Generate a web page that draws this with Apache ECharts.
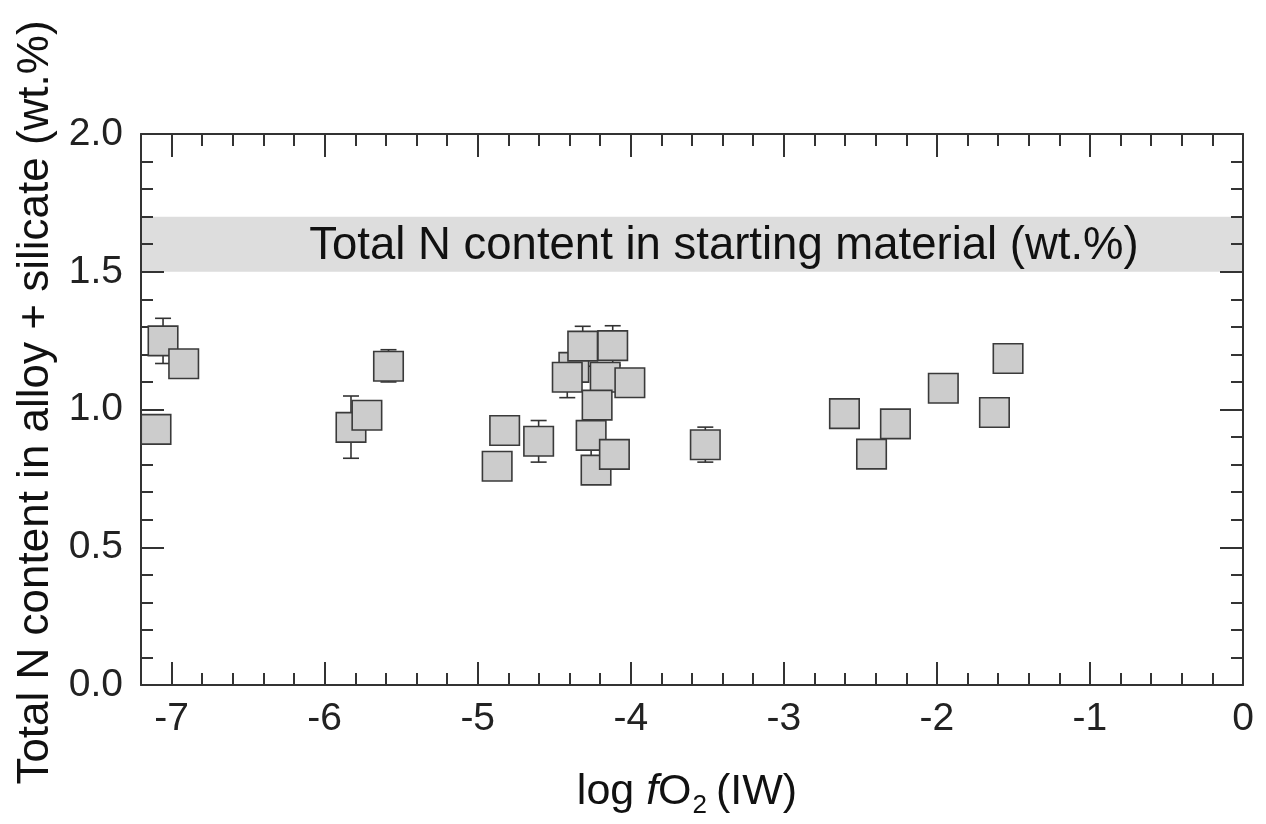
<!DOCTYPE html>
<html>
<head>
<meta charset="utf-8">
<script src="https://cdn.jsdelivr.net/npm/echarts@6/dist/echarts.min.js"></script>
<style>
html,body{margin:0;padding:0;background:#fff;}
#chart{width:1266px;height:824px;}
</style>
</head>
<body>
<div id="chart"></div>
<script>
// ---- data ----
const xValues = [-7.056, -6.921, -7.102, -5.828, -5.724, -5.583, -4.824, -4.873, -4.602, -4.372, -4.314, -4.118, -4.415, -4.167, -4.220, -4.006, -4.259, -4.227, -4.107, -3.513, -2.604, -2.427, -2.271, -1.958, -1.624, -1.535];
const yValues = [1.249, 1.166, 0.928, 0.935, 0.979, 1.157, 0.924, 0.794, 0.885, 1.153, 1.230, 1.232, 1.117, 1.117, 1.016, 1.097, 0.906, 0.780, 0.837, 0.872, 0.985, 0.838, 0.948, 1.077, 0.989, 1.185];
const errLow  = [1.167, null, null, 0.823, null, 1.100, null, null, 0.809, null, 1.157, 1.161, 1.043, null, null, null, 0.830, null, null, 0.809, null, null, null, null, null, null];
const errHigh = [1.331, null, null, 1.049, null, 1.217, null, null, 0.960, null, 1.302, 1.304, 1.190, null, null, null, 0.980, null, null, 0.936, null, null, null, null, null, null];
const bandLow = 1.5;
const bandHigh = 1.7;
const bandText = 'Total N content in starting material (wt.%)';
const xMajorTicks = [-7, -6, -5, -4, -3, -2, -1, 0];
const xMin = -7.2, xMax = 0, xMinorStep = 0.2;
const yMin = 0, yMax = 2, yStep = 0.5;
const yTitle = 'Total N content in alloy + silicate (wt.%)';

const FONT = "'Liberation Sans', Arial, Helvetica, sans-serif";
const AX = '#333333';

const scatterData = xValues.map((x, i) => [x, yValues[i]]);
const errData = [];
xValues.forEach((x, i) => { if (errLow[i] != null) errData.push([x, yValues[i], errLow[i], errHigh[i]]); });

function xAxisBase(pos, major, labels) {
  const a = {
    type: 'value', position: pos, min: xMin, max: xMax, z: 2,
    splitLine: { show: false },
    axisLine: { show: major, onZero: false, lineStyle: { color: AX, width: 2 } },
    axisTick: { show: true, inside: true, length: major ? 23 : 12, lineStyle: { color: AX, width: 2 } },
    axisLabel: { show: false }
  };
  if (major) {
    a.axisTick.customValues = xMajorTicks;
    a.axisLabel = { show: labels, customValues: xMajorTicks, fontSize: 39, color: '#222', fontFamily: FONT, margin: 15 };
  } else {
    a.interval = xMinorStep;
  }
  return a;
}

const xa0 = xAxisBase('bottom', true, true);
xa0.name = '{n|log }{i|f}{n|O}{s|2}{n|(IW)}';
xa0.nameLocation = 'middle';
xa0.nameGap = 80;
xa0.nameTextStyle = {
  fontFamily: FONT, color: '#111', padding: [0, 10, 0, 0],
  rich: {
    n: { fontSize: 43, fontFamily: FONT, color: '#111' },
    i: { fontSize: 43, fontFamily: FONT, fontStyle: 'italic', color: '#111' },
    s: { fontSize: 26, fontFamily: FONT, color: '#111', padding: [28, 9, 0, 1] }
  }
};

function yAxisBase(pos, labels) {
  const a = {
    type: 'value', position: pos, min: yMin, max: yMax, interval: yStep, z: 2,
    splitLine: { show: false },
    axisLine: { show: true, onZero: false, lineStyle: { color: AX, width: 2 } },
    axisTick: { show: true, inside: true, length: 23, lineStyle: { color: AX, width: 2 } },
    minorTick: { show: true, splitNumber: 5, length: 12, lineStyle: { color: AX, width: 2 } },
    axisLabel: { show: labels, fontSize: 39, color: '#222', fontFamily: FONT, margin: 18,
      formatter: v => v.toFixed(1) }
  };
  return a;
}
const ya0 = yAxisBase('left', true);
ya0.name = yTitle;
ya0.nameLocation = 'middle';
ya0.nameGap = 80;
ya0.nameRotate = 90;
ya0.nameTextStyle = { fontSize: 44, fontFamily: FONT, color: '#111', padding: [0, 0, 0, 14] };

const option = {
  backgroundColor: '#ffffff',
  animation: false,
  textStyle: { fontFamily: FONT },
  grid: { left: 141, right: 23, top: 134, bottom: 136, containLabel: false },
  xAxis: [xa0, xAxisBase('bottom', false, false), xAxisBase('top', true, false), xAxisBase('top', false, false)],
  yAxis: [ya0, yAxisBase('right', false)],
  series: [
    {
      type: 'scatter', name: 'band', xAxisIndex: 0, yAxisIndex: 0, z: 1, data: [], silent: true,
      markArea: {
        silent: true,
        itemStyle: { color: '#dddddd' },
        label: { show: true, position: 'inside', formatter: bandText, fontSize: 45.5, color: '#111', fontFamily: FONT, offset: [32, 2] },
        data: [[{ yAxis: bandLow }, { yAxis: bandHigh }]]
      }
    },
    {
      type: 'custom', name: 'err', xAxisIndex: 0, yAxisIndex: 0, z: 3, data: errData,
      renderItem: function (params, api) {
        const x = api.value(0);
        const p1 = api.coord([x, api.value(2)]);
        const p2 = api.coord([x, api.value(3)]);
        const hw = 8;
        const st = { stroke: AX, lineWidth: 1.6 };
        return {
          type: 'group',
          children: [
            { type: 'line', shape: { x1: p1[0], y1: p1[1], x2: p2[0], y2: p2[1] }, style: st },
            { type: 'line', shape: { x1: p1[0] - hw, y1: p1[1], x2: p1[0] + hw, y2: p1[1] }, style: st },
            { type: 'line', shape: { x1: p2[0] - hw, y1: p2[1], x2: p2[0] + hw, y2: p2[1] }, style: st }
          ]
        };
      }
    },
    {
      type: 'scatter', name: 'N', xAxisIndex: 0, yAxisIndex: 0, z: 4,
      symbol: 'rect', symbolSize: 29.5,
      itemStyle: { color: '#cccccc', borderColor: '#3a3a3a', borderWidth: 1.6, opacity: 1 },
      data: scatterData
    }
  ]
};

const chart = echarts.init(document.getElementById('chart'), null, { renderer: 'canvas' });
chart.setOption(option);
</script>
</body>
</html>
